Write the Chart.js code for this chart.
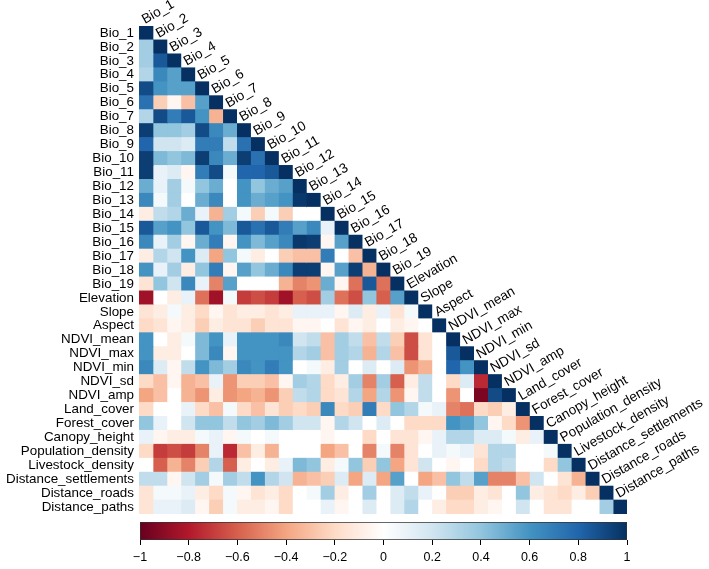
<!DOCTYPE html>
<html>
<head>
<meta charset="utf-8">
<script src="https://cdn.jsdelivr.net/npm/chart.js@4.4.1/dist/chart.umd.min.js"></script>
<style>
  html, body { margin:0; padding:0; background:#fff; }
  #wrap { position:relative; width:709px; height:569px; }
  #main { position:absolute; left:0; top:0; }
  #scale { position:absolute; left:0; top:515px; }
</style>
</head>
<body>
<div id="wrap">
  <canvas id="main" width="709" height="569"></canvas>
  <canvas id="scale" width="709" height="54"></canvas>
</div>
<script>
/* lower-triangle correlation matrix (corrplot style)
   - one array per variable, values left of the diagonal
   - horizontal floating bars = cells, one dataset per column
   - colour key drawn as a 2nd chart underneath */

const varNames = ['Bio_1','Bio_2','Bio_3','Bio_4','Bio_5','Bio_6','Bio_7','Bio_8','Bio_9','Bio_10',
  'Bio_11','Bio_12','Bio_13','Bio_14','Bio_15','Bio_16','Bio_17','Bio_18','Bio_19',
  'Elevation','Slope','Aspect','NDVI_mean','NDVI_max','NDVI_min','NDVI_sd','NDVI_amp',
  'Land_cover','Forest_cover','Canopy_height','Population_density','Livestock_density',
  'Distance_settlements','Distance_roads','Distance_paths'];

// correlations with the variables before it (row r holds r values)
const corr_Bio_1  = [];
const corr_Bio_2  = [0.35];
const corr_Bio_3  = [0.35, 0.85];
const corr_Bio_4  = [0.3, 0.65, 0.55];
const corr_Bio_5  = [0.9, 0.6, 0.55, 0.55];
const corr_Bio_6  = [0.75, -0.25, -0.05, -0.3, 0.55];
const corr_Bio_7  = [0.3, 0.9, 0.7, 0.85, 0.6, -0.35];
const corr_Bio_8  = [0.95, 0.4, 0.4, 0.35, 0.9, 0.65, 0.5];
const corr_Bio_9  = [0.8, 0.2, 0.2, 0.15, 0.7, 0.7, 0.25, 0.75];
const corr_Bio_10 = [0.95, 0.45, 0.4, 0.45, 0.95, 0.65, 0.5, 0.95, 0.75];
const corr_Bio_11 = [0.95, 0.1, 0.15, -0.05, 0.7, 0.9, 0.05, 0.8, 0.8, 0.85];
const corr_Bio_12 = [0.5, 0.1, 0.35, 0.05, 0.4, 0.5, 0.0, 0.6, 0.4, 0.5, 0.55];
const corr_Bio_13 = [0.65, 0.05, 0.35, 0.0, 0.5, 0.65, 0.0, 0.6, 0.5, 0.55, 0.6, 0.97];
const corr_Bio_14 = [-0.1, 0.25, 0.3, 0.5, 0.1, -0.35, 0.35, 0.05, -0.25, 0.05, -0.25, 0.0, 0.0];
const corr_Bio_15 = [0.85, 0.55, 0.6, 0.4, 0.85, 0.6, 0.45, 0.85, 0.75, 0.85, 0.7, 0.55, 0.65, 0.1];
const corr_Bio_16 = [0.65, 0.1, 0.35, -0.05, 0.5, 0.7, -0.05, 0.6, 0.45, 0.55, 0.65, 0.97, 0.95, -0.05, 0.55];
const corr_Bio_17 = [-0.1, 0.3, 0.2, 0.6, 0.15, -0.4, 0.4, 0.05, -0.1, 0.0, -0.25, -0.3, -0.3, 0.7, 0.0, -0.3];
const corr_Bio_18 = [0.6, 0.1, 0.35, -0.1, 0.4, 0.7, -0.05, 0.55, 0.4, 0.5, 0.65, 0.95, 0.95, -0.05, 0.55, 0.95, -0.35];
const corr_Bio_19 = [-0.15, 0.4, 0.2, 0.65, 0.1, -0.5, 0.55, 0.0, 0.0, 0.0, -0.35, -0.5, -0.45, 0.5, -0.05, -0.55, 0.85, -0.55];
const corr_Elevation = [-0.85, 0.0, -0.1, 0.1, -0.55, -0.85, 0.05, -0.7, -0.65, -0.7, -0.85, -0.6, -0.65, 0.35, -0.55, -0.65, 0.4, -0.6, 0.55];
const corr_Slope  = [-0.15, -0.1, 0.05, -0.1, -0.2, -0.05, -0.15, -0.1, -0.1, -0.15, -0.1, 0.1, 0.1, 0.1, -0.05, 0.15, -0.1, 0.1, -0.15, 0.05];
const corr_Aspect = [-0.2, -0.15, -0.05, -0.1, -0.25, -0.1, -0.15, -0.15, -0.25, -0.15, -0.15, -0.05, -0.05, 0.0, -0.15, -0.05, -0.1, 0.0, -0.1, -0.05, 0.0];
const corr_NDVI_mean = [0.6, 0.0, -0.1, 0.05, 0.45, 0.6, 0.1, 0.6, 0.6, 0.6, 0.65, 0.2, 0.25, -0.3, 0.35, 0.25, -0.3, 0.25, -0.25, -0.65, -0.15, 0.0];
const corr_NDVI_max  = [0.6, -0.1, -0.1, 0.0, 0.45, 0.65, -0.05, 0.6, 0.6, 0.6, 0.6, 0.3, 0.35, -0.3, 0.35, 0.3, -0.35, 0.3, -0.3, -0.65, -0.15, 0.0, 0.85];
const corr_NDVI_min  = [0.65, 0.15, -0.05, 0.25, 0.6, 0.45, 0.35, 0.65, 0.6, 0.7, 0.6, 0.0, 0.05, -0.1, 0.35, 0.0, 0.15, 0.0, 0.15, -0.45, -0.35, 0.0, 0.8, 0.6];
const corr_NDVI_sd   = [-0.2, -0.3, -0.05, -0.35, -0.3, 0.1, -0.45, -0.25, -0.25, -0.3, -0.05, 0.35, 0.3, -0.2, -0.1, 0.35, -0.5, 0.35, -0.6, -0.1, 0.25, 0.0, -0.2, 0.15, -0.75];
const corr_NDVI_amp  = [-0.4, -0.3, 0.0, -0.35, -0.45, -0.1, -0.45, -0.4, -0.35, -0.45, -0.25, 0.25, 0.3, -0.2, -0.15, 0.3, -0.4, 0.3, -0.45, -0.05, 0.25, 0.0, -0.45, 0.0, -0.95, 0.9];
const corr_Land_cover = [-0.2, 0.0, 0.0, 0.1, -0.2, -0.3, 0.05, -0.2, -0.3, -0.15, -0.25, -0.2, -0.25, 0.65, -0.2, -0.25, 0.7, -0.2, 0.4, 0.3, 0.05, 0.1, -0.5, -0.55, -0.2, -0.25, -0.1];
const corr_Forest_cover = [0.4, 0.1, 0.0, 0.2, 0.4, 0.4, 0.25, 0.4, 0.35, 0.45, 0.35, 0.2, 0.2, -0.05, 0.3, 0.2, 0.0, 0.15, 0.0, -0.2, -0.2, -0.2, 0.6, 0.55, 0.4, -0.05, -0.2, -0.45];
const corr_Canopy_height = [0.1, -0.05, -0.1, -0.1, 0.05, 0.1, -0.05, 0.05, 0.0, 0.05, 0.0, 0.0, 0.0, -0.05, 0.0, 0.0, -0.2, 0.0, -0.15, -0.15, -0.05, 0.1, 0.3, 0.3, 0.15, 0.15, 0.05, -0.1, 0.1];
const corr_Population_density = [-0.2, -0.7, -0.65, -0.7, -0.5, 0.1, -0.75, -0.3, -0.1, -0.35, 0.0, 0.0, 0.0, -0.4, -0.3, 0.0, -0.5, 0.05, -0.5, -0.15, 0.0, 0.1, 0.05, 0.1, -0.15, 0.3, 0.3, 0.0, 0.0, 0.05];
const corr_Livestock_density = [0.0, -0.6, -0.35, -0.5, -0.25, 0.3, -0.6, -0.1, 0.0, -0.1, 0.1, 0.45, 0.4, -0.1, 0.05, 0.4, -0.25, 0.4, -0.4, -0.15, 0.2, 0.0, -0.05, 0.0, -0.2, 0.3, 0.25, 0.0, 0.0, -0.2, 0.4];
const corr_Distance_settlements = [0.25, 0.25, -0.05, 0.2, 0.35, 0.05, 0.35, 0.25, 0.6, 0.3, 0.2, -0.35, -0.3, -0.25, 0.15, -0.4, 0.15, -0.4, 0.55, 0.0, -0.4, -0.3, 0.4, 0.25, 0.55, -0.5, -0.5, -0.3, 0.2, 0.0, -0.15, -0.35];
const corr_Distance_roads = [-0.15, 0.05, 0.05, 0.1, -0.1, -0.2, 0.05, -0.05, -0.15, -0.1, -0.2, 0.0, 0.05, 0.35, -0.1, 0.0, 0.35, 0.0, 0.15, 0.25, 0.1, 0.0, -0.25, -0.25, -0.1, -0.15, 0.0, 0.4, -0.1, -0.15, -0.2, -0.1, -0.25];
const corr_Distance_paths = [-0.15, 0.1, 0.1, 0.15, -0.05, -0.25, 0.05, -0.1, -0.1, -0.05, -0.2, 0.0, 0.0, 0.1, -0.05, 0.0, 0.15, 0.0, 0.15, 0.3, 0.0, -0.1, -0.2, -0.2, -0.1, -0.05, 0.0, 0.2, 0.0, -0.15, -0.15, 0.0, 0.0, 0.35];

// colour key ticks
const keyTicks = [-1, -0.8, -0.6, -0.4, -0.2, 0, 0.2, 0.4, 0.6, 0.8, 1];

const lowerRows = [corr_Bio_1, corr_Bio_2, corr_Bio_3, corr_Bio_4, corr_Bio_5, corr_Bio_6, corr_Bio_7,
  corr_Bio_8, corr_Bio_9, corr_Bio_10, corr_Bio_11, corr_Bio_12, corr_Bio_13, corr_Bio_14, corr_Bio_15,
  corr_Bio_16, corr_Bio_17, corr_Bio_18, corr_Bio_19, corr_Elevation, corr_Slope, corr_Aspect,
  corr_NDVI_mean, corr_NDVI_max, corr_NDVI_min, corr_NDVI_sd, corr_NDVI_amp, corr_Land_cover,
  corr_Forest_cover, corr_Canopy_height, corr_Population_density, corr_Livestock_density,
  corr_Distance_settlements, corr_Distance_roads, corr_Distance_paths];

const FONT = '"Liberation Sans", Arial, sans-serif';
const RDBU = ['#67001F','#B2182B','#D6604D','#F4A582','#FDDBC7','#FFFFFF','#D1E5F0','#92C5DE','#4393C3','#2166AC','#053061'];

const hexRgb = h => [1,3,5].map(i => parseInt(h.slice(i, i+2), 16));
function cellColor(v){
  const t = (Math.max(-1, Math.min(1, v)) + 1) / 2 * (RDBU.length - 1);
  const i = Math.min(Math.floor(t), RDBU.length - 2);
  const f = t - i;
  const a = hexRgb(RDBU[i]), b = hexRgb(RDBU[i+1]);
  return 'rgb(' + a.map((x, k) => Math.round(x + (b[k] - x) * f)).join(',') + ')';
}
const corrAt = (r, c) => r === c ? 1 : lowerRows[r][c];

const n = varNames.length;
const datasets = varNames.map((name, c) => ({
  label: name,
  data: varNames.map((_, r) => r >= c ? [c, c + 1] : null),
  backgroundColor: varNames.map((_, r) => r >= c ? cellColor(corrAt(r, c)) : 'rgba(0,0,0,0)'),
  borderWidth: 0,
  barPercentage: 1,
  categoryPercentage: 1,
  grouped: false,
  inflateAmount: 0.4
}));

// column names along the diagonal
const diagLabels = {
  id: 'diagLabels',
  afterDatasetsDraw(chart){
    const { ctx } = chart;
    const xs = chart.scales.x, ys = chart.scales.y;
    const ch = ys.getPixelForValue(1) - ys.getPixelForValue(0);
    ctx.save();
    ctx.font = '13.6px ' + FONT;
    ctx.fillStyle = '#000';
    ctx.textAlign = 'left';
    ctx.textBaseline = 'alphabetic';
    varNames.forEach((name, i) => {
      const cx = (xs.getPixelForValue(i) + xs.getPixelForValue(i + 1)) / 2;
      const top = ys.getPixelForValue(i) - ch / 2;
      ctx.save();
      ctx.translate(cx - 1, top - 2);
      ctx.rotate(-30 * Math.PI / 180);
      ctx.fillText(name, 0, 0);
      ctx.restore();
    });
    ctx.restore();
  }
};

new Chart(document.getElementById('main'), {
  type: 'bar',
  data: { labels: varNames, datasets },
  options: {
    indexAxis: 'y',
    responsive: false,
    animation: false,
    layout: { padding: { left: 0, right: 82, top: 26, bottom: 55 } },
    plugins: { legend: { display: false }, tooltip: { enabled: false } },
    scales: {
      x: { type: 'linear', min: 0, max: n, display: false },
      y: {
        type: 'category', offset: true,
        grid: { display: false, drawTicks: false },
        border: { display: false },
        ticks: { autoSkip: false, color: '#000', padding: 5, font: { family: FONT, size: 13.4 } },
        afterFit: s => { s.width = 139; }
      }
    }
  },
  plugins: [diagLabels]
});

// colour key
function keyGradient(ctx){
  const ca = ctx.chart.chartArea;
  if(!ca) return RDBU[5];
  const g = ctx.chart.ctx.createLinearGradient(ca.left, 0, ca.right, 0);
  RDBU.forEach((col, i) => g.addColorStop(i / (RDBU.length - 1), col));
  return g;
}

new Chart(document.getElementById('scale'), {
  type: 'bar',
  data: { labels: ['key'], datasets: [{
    data: [[keyTicks[0], keyTicks[keyTicks.length - 1]]],
    backgroundColor: keyGradient,
    borderColor: '#333',
    borderWidth: 1,
    borderSkipped: false,
    barPercentage: 1,
    categoryPercentage: 1
  }]},
  options: {
    indexAxis: 'y',
    responsive: false,
    animation: false,
    layout: { padding: { left: 140, right: 82, top: 7, bottom: 0 } },
    plugins: { legend: { display: false }, tooltip: { enabled: false } },
    scales: {
      y: { display: false },
      x: {
        type: 'linear', min: -1, max: 1,
        afterBuildTicks: s => { s.ticks = keyTicks.map(v => ({ value: v })); },
        grid: { drawOnChartArea: false, tickLength: 5, color: '#000' },
        border: { display: false },
        ticks: {
          color: '#000', padding: 5, maxRotation: 0, autoSkip: false,
          font: { family: FONT, size: 12.5 },
          callback: v => String(Math.round(v * 10) / 10).replace('-', '\u2212')
        },
        afterFit: s => { s.height = 29; }
      }
    }
  }
});
</script>
</body>
</html>
